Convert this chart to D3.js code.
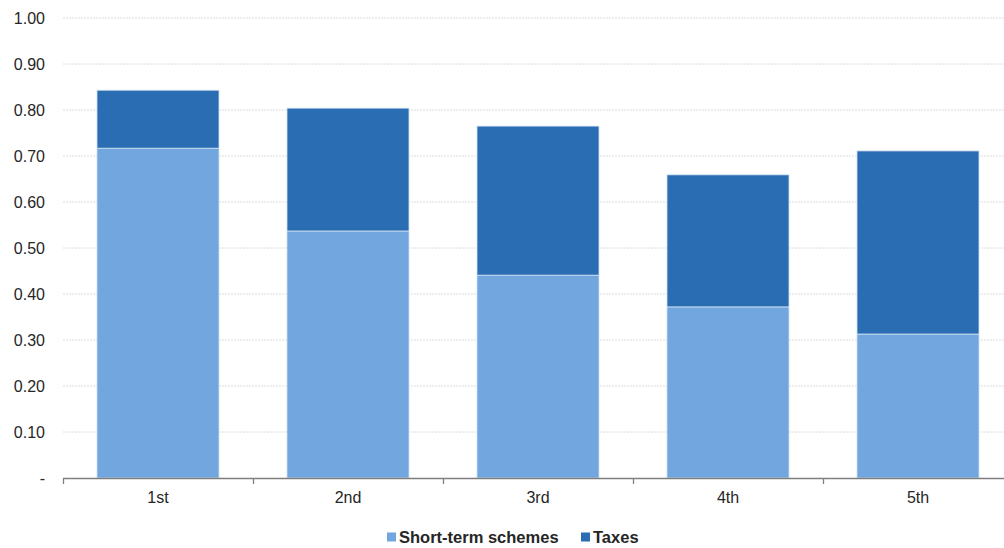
<!DOCTYPE html>
<html>
<head>
<meta charset="utf-8">
<script src="https://cdn.jsdelivr.net/npm/d3@7"></script>
<style>
  html, body { margin: 0; padding: 0; background: #fff; }
  svg { display: block; font-family: "Liberation Sans", Arial, sans-serif; }
</style>
</head>
<body>
<svg id="chart" width="1004" height="548"></svg>
<script>
// Categories and stacked series
const categories = ["1st", "2nd", "3rd", "4th", "5th"];
const shortTerm = [0.717, 0.537, 0.441, 0.372, 0.313];
const taxes = [0.126, 0.267, 0.324, 0.287, 0.398];
const yTicks = [0, 0.1, 0.2, 0.3, 0.4, 0.5, 0.6, 0.7, 0.8, 0.9, 1.0];
const seriesNames = ["Short-term schemes", "Taxes"];
const seriesColors = ["#71a6de", "#2a6db3"];

const svg = d3.select("#chart");
const margin = { left: 63, top: 18, bottom: 70 };
const plotBottom = 478;
const bandW = 190;

const x = d3.scaleBand()
  .domain(categories)
  .range([margin.left, margin.left + bandW * categories.length])
  .paddingInner(0.358)
  .paddingOuter(0.179);

const y = d3.scaleLinear().domain([0, 1]).range([plotBottom, margin.top]);

// Horizontal gridlines
svg.append("g")
  .selectAll("line")
  .data(yTicks.filter(d => d > 0))
  .join("line")
  .attr("x1", margin.left)
  .attr("x2", 1004)
  .attr("y1", d => y(d))
  .attr("y2", d => y(d))
  .attr("stroke", "#dcdcdc")
  .attr("stroke-width", 1)
  .attr("stroke-dasharray", "2,1");

// Y axis labels
const yAxis = d3.axisLeft(y)
  .tickValues(yTicks)
  .tickSize(0)
  .tickPadding(18)
  .tickFormat(d => d === 0 ? "-" : d3.format(".2f")(d));
const yg = svg.append("g")
  .attr("transform", `translate(${margin.left},0)`)
  .call(yAxis);
yg.select(".domain").remove();
yg.selectAll("text")
  .attr("fill", "#262626")
  .style("font-size", "16px");

// Stacked bars
const rows = categories.map((c, i) => ({ cat: c, "Short-term schemes": shortTerm[i], "Taxes": taxes[i] }));
const stacked = d3.stack().keys(seriesNames)(rows);

svg.append("g")
  .selectAll("g")
  .data(stacked)
  .join("g")
  .attr("fill", (d, i) => seriesColors[i])
  .selectAll("rect")
  .data(d => d)
  .join("rect")
  .attr("x", d => x(d.data.cat))
  .attr("width", x.bandwidth())
  .attr("y", d => y(d[1]))
  .attr("height", d => y(d[0]) - y(d[1]))
  .attr("stroke", "#cfe0f3")
  .attr("stroke-width", 0.8);

// X axis
const xAxis = d3.axisBottom(x).tickSize(0).tickPadding(14);
const xg = svg.append("g")
  .attr("transform", `translate(0,${plotBottom})`)
  .call(xAxis);
xg.select(".domain").remove();
xg.selectAll("text")
  .attr("fill", "#262626")
  .style("font-size", "16px");

svg.append("line")
  .attr("x1", margin.left).attr("x2", 1004)
  .attr("y1", plotBottom + 0.5).attr("y2", plotBottom + 0.5)
  .attr("stroke", "#7f7f7f").attr("stroke-width", 1.3);

// Category separator ticks
const sepTicks = d3.range(categories.length).map(i => margin.left + i * bandW);
svg.append("g")
  .selectAll("line")
  .data(sepTicks)
  .join("line")
  .attr("x1", d => d + 0.5).attr("x2", d => d + 0.5)
  .attr("y1", plotBottom).attr("y2", plotBottom + 6)
  .attr("stroke", "#7f7f7f").attr("stroke-width", 1.3);

// Legend
const legend = svg.append("g").attr("transform", "translate(387,537)");
const legendX = [0, 194];
seriesNames.forEach((name, i) => {
  const g = legend.append("g").attr("transform", `translate(${legendX[i]},0)`);
  g.append("rect")
    .attr("x", 0).attr("y", -4.5)
    .attr("width", 9).attr("height", 9)
    .attr("fill", seriesColors[i]);
  g.append("text")
    .attr("x", 12).attr("y", 0)
    .attr("dy", "0.35em")
    .attr("fill", "#262626")
    .style("font-size", "16.5px")
    .style("font-weight", "bold")
    .text(name);
});
</script>
</body>
</html>
